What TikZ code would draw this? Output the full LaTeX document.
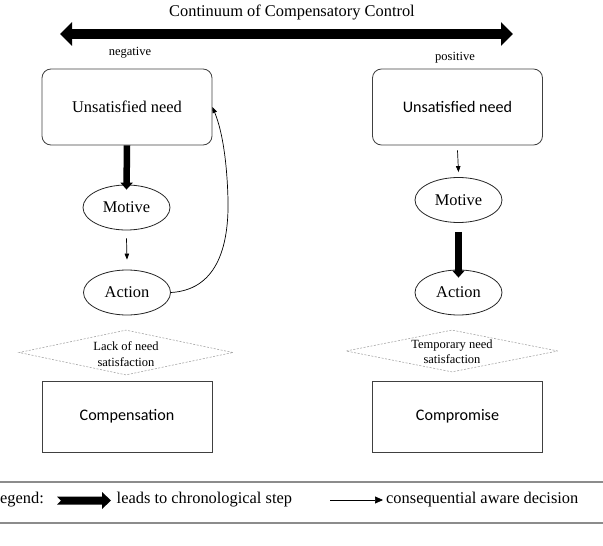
\documentclass[tikz,border=0pt]{standalone}
\usepackage{fontspec}
\setmainfont{Liberation Serif}
\newfontfamily\calib{Carlito}
\usetikzlibrary{arrows.meta,shapes.geometric}
\begin{document}
\begin{tikzpicture}[x=1pt,y=-1pt,
  big/.style={font=\fontsize{16.4}{19}\selectfont},
  small/.style={font=\fontsize{12.5}{15.5}\selectfont, align=center},
  sansbig/.style={font=\calib\fontsize{16.1}{19}\selectfont},
  rbox/.style={draw=black!75, line width=0.8pt, rounded corners=9pt, minimum width=170pt, minimum height=76pt, inner sep=0pt},
  sbox/.style={draw=black!75, line width=0.8pt, minimum width=170pt, minimum height=71pt, inner sep=0pt, sansbig},
  oval/.style={draw=black!85, line width=0.8pt, ellipse, minimum width=87pt, minimum height=45pt, inner sep=0pt, big},
  diam/.style={draw=black!35, dash pattern=on 2pt off 1.5pt, line width=0.6pt, diamond, inner sep=0pt},
  chronarrow/.style={line width=6.5pt, -{Triangle[length=7pt,width=12pt]}},
  awarearrow/.style={line width=0.7pt, -{Triangle[length=6pt,width=4.5pt]}},
  legline/.style={draw=black!45, line width=1.3pt}
]
\useasboundingbox (0,0) rectangle (603,546);

% title and continuum arrow
\node[big] (title) at (292,12) {Continuum of Compensatory Control};
\coordinate (cl) at (60,34);
\coordinate (cr) at (513,34);
\draw[line width=10pt, {Triangle[length=12pt,width=23pt]}-{Triangle[length=12pt,width=23pt]}] (cl) -- (cr);
\node[small] (neg) at (130,53) {negative};
\node[small] (pos) at (455,58) {positive};

% left column
\node[rbox, big] (need1) at (127,107) {Unsatisfied need};
\node[oval] (motive1) at (126.5,207.5) {Motive};
\node[oval] (action1) at (127,292.5) {Action};
\node[diam, minimum width=214pt, minimum height=45pt] (d1) at (126,352.5) {};
\node[small] (d1t) at (126,354) {Lack of need\\satisfaction};
\node[sbox] (comp1) at (127,416.5) {Compensation};

% right column
\node[rbox, sansbig] (need2) at (457.5,107) {Unsatisfied need};
\node[oval] (motive2) at (458.5,200) {Motive};
\node[oval] (action2) at (458.5,292.5) {Action};
\node[diam, minimum width=212pt, minimum height=42pt] (d2) at (452,351) {};
\node[small] (d2t) at (452,351.5) {Temporary need\\satisfaction};
\node[sbox] (comp2) at (457.5,416.5) {Compromise};

% connectors left
\draw[chronarrow] (need1.south) -- ([yshift=-5pt]motive1.north);
\draw[awarearrow] ([yshift=-8pt]motive1.south) -- ([yshift=10pt]action1.north);
\coordinate (bend) at (228,200);
\draw[awarearrow] (action1.east) .. controls (215,290) and (229,250) .. (bend)
  .. controls (227,160) and (222,130) .. (need1.east);

% connectors right
\draw[awarearrow] ([yshift=-5pt]need2.south) -- ([yshift=5pt]motive2.north);
\draw[chronarrow] ([yshift=-9pt]motive2.south) -- ([yshift=-8pt]action2.north);

% legend
\coordinate (la) at (0,482);
\coordinate (lb) at (603,482);
\coordinate (lc) at (0,523);
\coordinate (ld) at (603,523);
\draw[legline] (la) -- (lb);
\draw[legline] (lc) -- (ld);
\node[big, anchor=west, inner sep=0pt] (leg) at (0,500) {egend:};
\fill (57,496.5) -- (102,496.5) -- (102,492) -- (111,500.5) -- (102,509) -- (102,504.5) -- (57,504.5) -- (61,500.5) -- cycle;
\node[big, anchor=west, inner sep=0pt] (leg1) at (116.5,500) {leads to chronological step};
\coordinate (ta) at (330,500);
\coordinate (tb) at (383,500);
\draw[line width=0.7pt, -{Triangle[length=8pt,width=7pt]}] (ta) -- (tb);
\node[big, anchor=west, inner sep=0pt] (leg2) at (386,500) {consequential aware decision};
\end{tikzpicture}
\end{document}
